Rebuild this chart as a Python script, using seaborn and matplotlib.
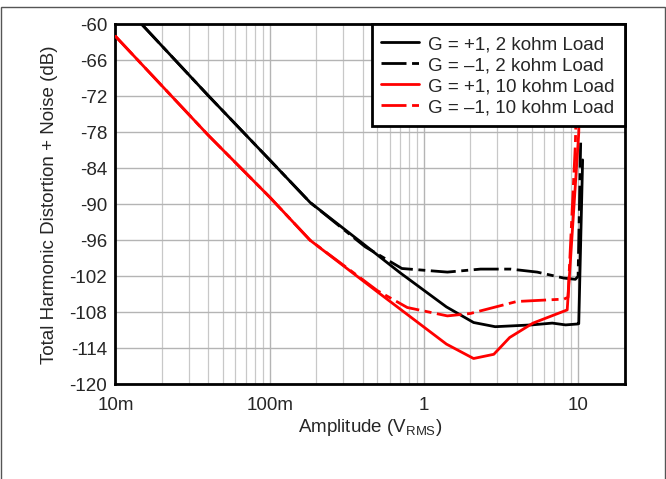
import numpy as np
import pandas as pd
import matplotlib
matplotlib.use("Agg")
import matplotlib.pyplot as plt
import matplotlib.ticker as mticker
from matplotlib.patches import Rectangle
import seaborn as sns

# Series (amplitude in V RMS, THD+N in dB)
labels = ["G = +1, 2 kohm Load", "G = \u20131, 2 kohm Load",
          "G = +1, 10 kohm Load", "G = \u20131, 10 kohm Load"]

amp_g1_2k = [0.0148, 0.04, 0.1, 0.183, 0.4, 0.7, 1.4, 2.1, 2.9, 5.0, 6.8, 8.3, 9.9, 10.1, 10.7]
thd_g1_2k = [-60.0, -71.9, -82.6, -89.7, -96.5, -101.4, -107.1, -109.7, -110.4, -110.1, -109.8, -110.1, -109.95, -109.9, -82.6]

amp_gm1_2k = [0.0148, 0.04, 0.1, 0.183, 0.417, 0.72, 1.42, 2.33, 3.65, 5.43, 8.09, 9.6, 10.0, 10.4]
thd_gm1_2k = [-60.0, -71.9, -82.6, -89.7, -97.1, -100.7, -101.3, -100.8, -100.8, -101.3, -102.3, -102.5, -102.0, -79.3]

amp_g1_10k = [0.01, 0.04, 0.1, 0.183, 0.5, 1.4, 2.1, 2.84, 3.6, 5.1, 8.5, 10.1, 10.4]
thd_g1_10k = [-62.0, -78.5, -88.8, -96.0, -104.6, -113.3, -115.7, -115.0, -112.2, -109.8, -107.6, -78.1, -60.0]

amp_gm1_10k = [0.01, 0.04, 0.1, 0.183, 0.5, 0.78, 1.42, 2.0, 4.0, 8.1, 8.6, 9.6, 10.0]
thd_gm1_10k = [-62.0, -78.5, -88.8, -96.0, -104.4, -107.2, -108.6, -108.2, -106.2, -105.8, -105.5, -80.0, -60.0]

x_ticks = [0.01, 0.1, 1, 10]
x_ticklabels = ["10m", "100m", "1", "10"]
y_ticks = list(range(-120, -59, 6))

frames = []
for lab, xs, ys in zip(labels,
                       [amp_g1_2k, amp_gm1_2k, amp_g1_10k, amp_gm1_10k],
                       [thd_g1_2k, thd_gm1_2k, thd_g1_10k, thd_gm1_10k]):
    frames.append(pd.DataFrame({"amp": xs, "thd": ys, "series": lab}))
df = pd.concat(frames, ignore_index=True)

sns.set_style("white")
plt.rcParams["font.family"] = ["Liberation Sans", "DejaVu Sans"]
plt.rcParams["axes.unicode_minus"] = False

fig = plt.figure(figsize=(6.66, 4.79), dpi=100)
ax = fig.add_axes([0.1734, 0.1977, 0.7643, 0.7516])

palette = dict(zip(labels, ["black", "black", "#ff0000", "#ff0000"]))
dash_map = dict(zip(labels, ["", (9, 2, 2.5, 2), "", (9, 2, 2.5, 2)]))

sns.lineplot(data=df, x="amp", y="thd", hue="series", style="series",
             hue_order=labels, style_order=labels, palette=palette,
             dashes=dash_map, estimator=None, sort=False, units="series",
             linewidth=2, ax=ax, zorder=3)

ax.set_xscale("log")
ax.set_xlim(0.01, 20)
ax.set_ylim(-120, -60)
ax.set_xticks(x_ticks)
ax.set_xticklabels(x_ticklabels)
ax.xaxis.set_minor_locator(mticker.LogLocator(base=10, subs=np.arange(2, 10)))
ax.xaxis.set_minor_formatter(mticker.NullFormatter())
ax.set_yticks(y_ticks)
ax.grid(True, which="major", axis="both", color="#b4b4b4", linewidth=1)
ax.grid(True, which="minor", axis="x", color="#c8c8c8", linewidth=0.9)
ax.set_axisbelow(True)
ax.tick_params(axis="both", which="both", length=0, labelsize=13.5)
ax.tick_params(axis="y", pad=6)
ax.tick_params(axis="x", pad=9.5)

for sp in ax.spines.values():
    sp.set_visible(True)
    sp.set_color("black")
    sp.set_linewidth(2)

ax.set_xlabel("Amplitude (V$_\\mathregular{RMS}$)", fontsize=13.5, labelpad=2)
ax.set_ylabel("Total Harmonic Distortion + Noise (dB)", fontsize=13.5, labelpad=8)

leg = ax.legend(loc="upper right", borderaxespad=0, fontsize=13.5,
                fancybox=False, framealpha=1, handlelength=2.0,
                handletextpad=0.5, handleheight=1.12, labelspacing=0.08,
                borderpad=0.52)
leg.get_frame().set_edgecolor("black")
leg.get_frame().set_linewidth(2)
leg.set_zorder(5)

# outer frame of the figure
fig.patches.append(Rectangle((0.0015, -0.1), 0.997, 1.085, transform=fig.transFigure,
                             fill=False, edgecolor="#555555", linewidth=1))

fig.savefig("out.png", dpi=100)
